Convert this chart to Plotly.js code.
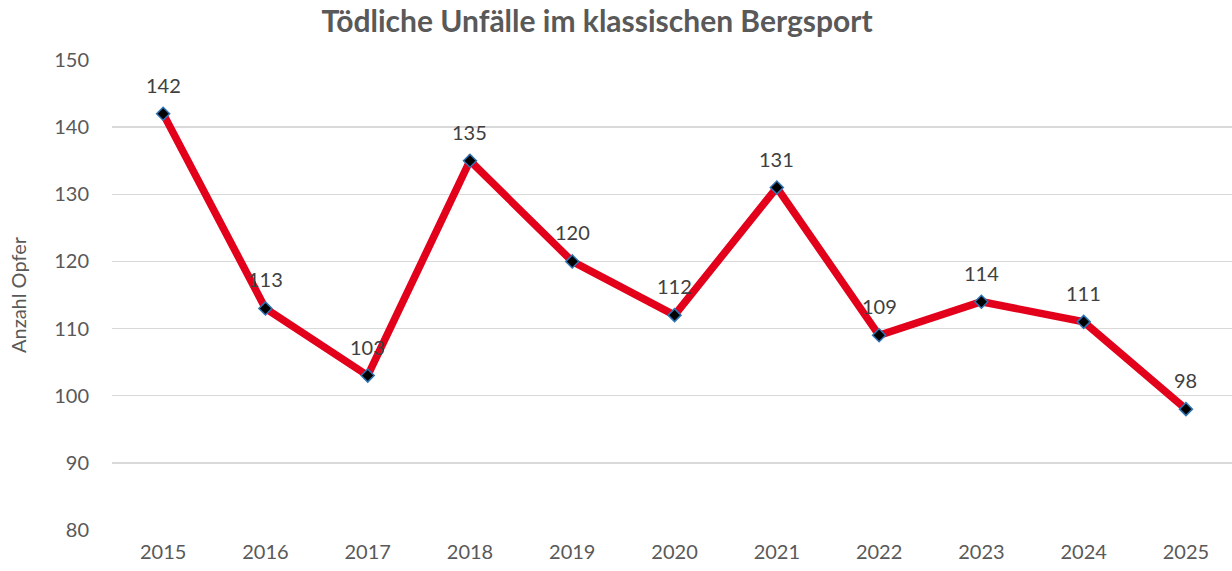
<!DOCTYPE html>
<html>
<head>
<meta charset="utf-8">
<script src="https://cdn.plot.ly/plotly-3.0.1.min.js"></script>
<style>html,body{margin:0;padding:0;background:#fff;}#chart{width:1232px;height:571px;}</style>
</head>
<body>
<div id="chart"></div>
<script>
const years = ['2015','2016','2017','2018','2019','2020','2021','2022','2023','2024','2025'];
const victims = [142, 113, 103, 135, 120, 112, 131, 109, 114, 111, 98];
const yTicks = [80, 90, 100, 110, 120, 130, 140, 150];

const FONT = 'Lato, "Open Sans", sans-serif';
const trace = {
  x: years,
  y: victims,
  type: 'scatter',
  mode: 'lines+markers',
  line: {color: '#E3001B', width: 7.5},
  marker: {symbol: 'diamond', size: 10, color: '#000000', line: {color: '#2E75B6', width: 1.5}},
  cliponaxis: false,
  hoverinfo: 'x+y'
};

const labels = years.map((yr, i) => ({
  x: i, y: victims[i], xref: 'x', yref: 'y',
  text: String(victims[i]),
  showarrow: false,
  yshift: 29,
  font: {family: FONT, size: 20, color: '#404040'}
}));

const layout = {
  width: 1232, height: 571,
  margin: {l: 112, r: 0, t: 60, b: 41},
  paper_bgcolor: '#ffffff', plot_bgcolor: '#ffffff',
  showlegend: false,
  annotations: labels,
  title: {
    text: '<b>Tödliche Unfälle im klassischen Bergsport</b>',
    font: {family: FONT, size: 30, color: '#595959'},
    x: 0.4846, xanchor: 'center', xref: 'container',
    y: 0.963, yanchor: 'middle', yref: 'container'
  },
  xaxis: {
    type: 'category',
    range: [-0.5, 10.45],
    showgrid: false, zeroline: false, showline: false,
    ticks: '',
    tickfont: {family: FONT, size: 20, color: '#595959'},
    ticklabelstandoff: 8
  },
  yaxis: {
    range: [80, 150],
    tickvals: yTicks,
    ticktext: yTicks.map(String),
    showgrid: true, gridcolor: '#d9d9d9', gridwidth: 1.3,
    zeroline: false, showline: false, ticks: '',
    tickfont: {family: FONT, size: 20, color: '#595959'},
    ticklabelstandoff: 22,
    title: {text: 'Anzahl Opfer', font: {family: FONT, size: 20, color: '#595959'}, standoff: 22}
  }
};

Plotly.newPlot('chart', [trace], layout, {displayModeBar: false, staticPlot: true});
</script>
</body>
</html>
